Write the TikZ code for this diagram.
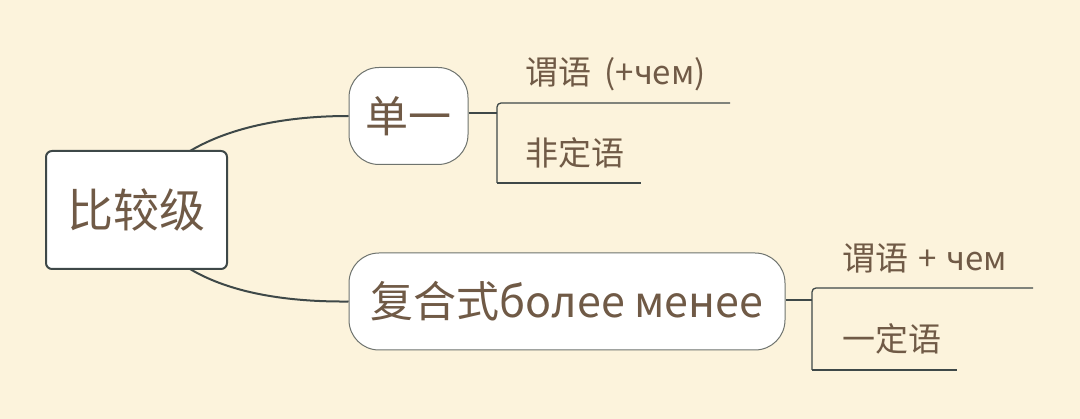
\documentclass[tikz,border=0pt]{standalone}
\usepackage{fontspec}
\setmainfont{Noto Sans CJK SC}
\definecolor{bg}{RGB}{252,243,220}
\definecolor{txt}{RGB}{112,90,70}
\definecolor{edge}{RGB}{62,72,72}
\definecolor{bord}{RGB}{110,115,110}
\tikzset{
  rootbox/.style={draw=edge, line width=2pt, fill=white, rounded corners=6pt, minimum width=181pt, minimum height=118pt, inner sep=0pt, text=txt, font=\fontsize{46}{50}\selectfont},
  topicbox/.style={draw=bord, line width=1pt, fill=white, rounded corners=30pt, minimum height=97pt, inner sep=0pt, text=txt, font=\fontsize{43}{48}\selectfont},
  leaf/.style={anchor=west, inner sep=0pt, text=txt, font=\fontsize{33}{36}\selectfont},
  conn/.style={draw=edge, line width=2pt},
  brk/.style={draw=edge, line width=1.3pt}
}
\begin{document}
\begin{tikzpicture}[x=1pt,y=-1pt]
\useasboundingbox[fill=bg] (0,0) rectangle (1080,419);
\node[rootbox] (root) at (136.5,210) {比较级};
\node[topicbox, minimum width=119pt] (s) at (408.5,116) {单一};
\node[topicbox, minimum width=436pt] (c) at (567,301.5) {复合式более менее};
\coordinate (r1) at (190,151);
\coordinate (r2) at (190,269);
\draw[conn] (r1) .. controls (232,126) and (290,116) .. (s.west);
\draw[conn] (r2) .. controls (232,294) and (290,302) .. (c.west);
% bracket 1
\coordinate (a0) at (497,113);
\coordinate (a1) at (497,183);
\coordinate (a2) at (497,103);
\coordinate (a3) at (730,103);
\coordinate (a4) at (641,183);
\draw[brk] (s.east |- a0) -- (a0);
\draw[brk, rounded corners=4pt] (a1) -- (a2) -- (a3);
\draw[brk] (a1) -- (a4);
\node[leaf] (l1) at (525,74) {谓语\hspace{6pt} (+чем)};
\node[leaf] (l2) at (525,153) {非定语};
% bracket 2
\coordinate (b0) at (812,300);
\coordinate (b1) at (812,370);
\coordinate (b2) at (812,288);
\coordinate (b3) at (1033,288);
\coordinate (b4) at (957,370);
\draw[brk] (c.east |- b0) -- (b0);
\draw[brk, rounded corners=4pt] (b1) -- (b2) -- (b3);
\draw[brk] (b1) -- (b4);
\node[leaf] (l3) at (842,258) {谓语\hspace{10pt}+\hspace{10pt}чем};
\node[leaf] (l4) at (842,339) {一定语};
\end{tikzpicture}
\end{document}
